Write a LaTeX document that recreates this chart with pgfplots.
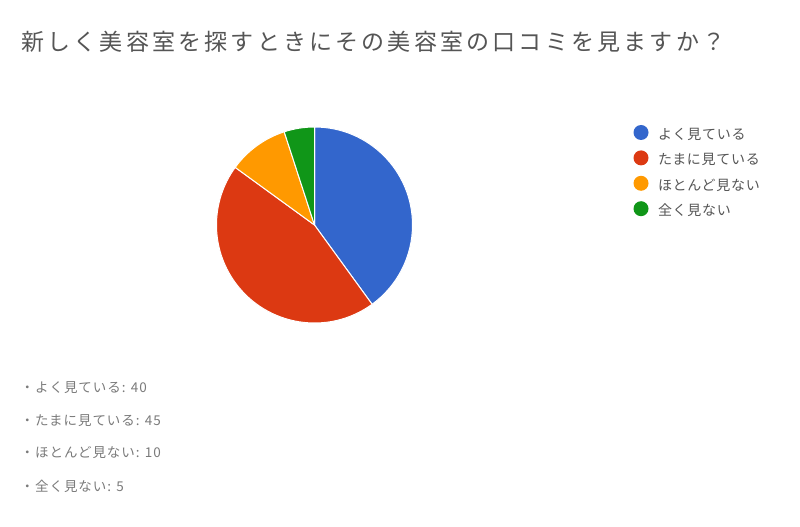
\documentclass[border=0pt]{standalone}
\usepackage{pgfplots}
\pgfplotsset{compat=1.18}
\usepackage{pgfplotstable}
\usepackage{fontspec}
\setmainfont{Noto Sans CJK JP}

\definecolor{gblue}{HTML}{3366CC}
\definecolor{gred}{HTML}{DC3912}
\definecolor{gorange}{HTML}{FF9900}
\definecolor{ggreen}{HTML}{109618}
\definecolor{titlegray}{HTML}{555555}
\definecolor{leggray}{HTML}{555555}
\definecolor{listgray}{HTML}{7A7A7A}

% share of answers, slices run clockwise from 12 o'clock
\pgfplotstableread{
value color
40 gblue
45 gred
10 gorange
5 ggreen
}\piedata

\begin{document}
\begin{tikzpicture}
\useasboundingbox (0pt,0pt) rectangle (800pt,527pt);

\node[anchor=west, inner sep=0pt, text=titlegray,
      font=\fontsize{23}{28}\selectfont\addfontfeature{LetterSpace=14}]
  at (21pt,485.5pt) {新しく美容室を探すときにその美容室の口コミを見ますか？};

\begin{axis}[
    at={(314.5pt,302pt)}, anchor=center,
    width=196pt, height=196pt, scale only axis,
    xmin=-1, xmax=1, ymin=-1, ymax=1,
    disabledatascaling,
    hide axis, clip=false,
    legend image code/.code={\fill[#1,draw=none] (7.5pt,4pt) circle[radius=7.5pt];},
    legend cell align=left,
    legend style={
        at={(axis description cs:2.1276,1.0102)}, anchor=north west,
        draw=none, fill=none, inner sep=0pt, outer sep=0pt,
        row sep=6.9pt,
        font=\fontsize{14}{16}\selectfont\addfontfeature{LetterSpace=5},
        text=leggray,
        nodes={inner sep=0pt, text height=10pt, text depth=4pt},
        /tikz/every odd column/.append style={column sep=9.5pt},
    },
]
\pgfplotstablegetrowsof{\piedata}
\pgfmathtruncatemacro\lastrow{\pgfplotsretval-1}
\gdef\startangle{90}
\pgfplotsforeachungrouped \i in {0,...,\lastrow}{%
    \pgfplotstablegetelem{\i}{value}\of\piedata
    \let\v\pgfplotsretval
    \pgfplotstablegetelem{\i}{color}\of\piedata
    \let\c\pgfplotsretval
    \pgfmathsetmacro\endangle{\startangle-3.6*\v}%
    \pgfmathsetmacro\sx{cos(\startangle)}%
    \pgfmathsetmacro\sy{sin(\startangle)}%
    \edef\temp{\noexpand\filldraw[fill=\c, draw=white, line width=1pt, line join=round]
        (axis cs:0,0) -- (axis cs:\sx,\sy)
        arc[start angle=\startangle, end angle=\endangle, radius=1] -- cycle;}%
    \temp
    \global\let\startangle\endangle
}

\addlegendimage{gblue}
\addlegendentry{よく見ている}
\addlegendimage{gred}
\addlegendentry{たまに見ている}
\addlegendimage{gorange}
\addlegendentry{ほとんど見ない}
\addlegendimage{ggreen}
\addlegendentry{全く見ない}
\end{axis}

\begin{scope}[every node/.style={anchor=west, inner sep=0pt, text=listgray,
      font=\fontsize{13.5}{16}\selectfont\addfontfeature{LetterSpace=7}}]
\node at (20.5pt,139pt) {・よく見ている: 40};
\node at (20.5pt,106pt) {・たまに見ている: 45};
\node at (20.5pt,74pt) {・ほとんど見ない: 10};
\node at (20.5pt,41pt) {・全く見ない: 5};
\end{scope}
\end{tikzpicture}
\end{document}
